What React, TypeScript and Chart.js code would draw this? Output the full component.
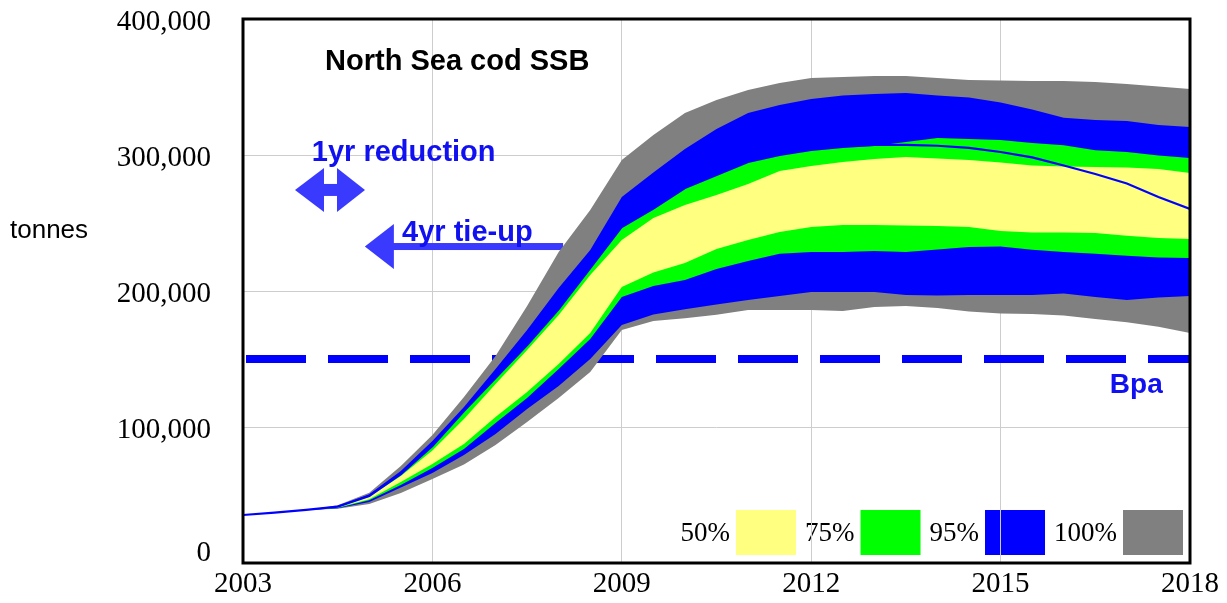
import React, { useEffect, useRef } from "react";
import { Chart, registerables } from "chart.js";

Chart.register(...registerables);

// ---- data (tonnes) ----
const YEARS = [
  2003, 2003.5, 2004, 2004.5, 2005, 2005.5, 2006, 2006.5, 2007, 2007.5, 2008,
  2008.5, 2009, 2009.5, 2010, 2010.5, 2011, 2011.5, 2012, 2012.5, 2013, 2013.5,
  2014, 2014.5, 2015, 2015.5, 2016, 2016.5, 2017, 2017.5, 2018,
];

const UPPER_100 = [
  35300, 37000, 39000, 42500, 51700, 71300, 94100, 122100, 152200, 189000, 228700,
  259600, 296300, 314700, 330900, 340400, 347800, 352900, 356600, 357400, 358100,
  358100, 356600, 355100, 354800, 354400, 354400, 353700, 352200, 350400, 348500,
];
const UPPER_95 = [
  35300, 37000, 39000, 42000, 50500, 67600, 89700, 114700, 142600, 171300, 202200,
  230200, 269100, 287100, 304400, 319100, 330900, 336800, 341200, 343800, 344900,
  345600, 343700, 342300, 338600, 333500, 327400, 325700, 325000, 322100, 320600,
];
const UPPER_75 = [
  35300, 37000, 39000, 41500, 49300, 65400, 86000, 111800, 136000, 160300, 186800,
  216900, 247100, 260700, 275700, 285300, 294900, 300000, 303700, 305900, 306600,
  309600, 312500, 311800, 311000, 308800, 307100, 303500, 302200, 299600, 297800,
];
const UPPER_50 = [
  35300, 37000, 39000, 41200, 48800, 64000, 82700, 105900, 131600, 156600, 182400,
  211800, 237500, 253700, 263200, 270600, 278700, 288200, 291900, 294900, 297100,
  298500, 297400, 296300, 294500, 292300, 291500, 291200, 290800, 289700, 286800,
];
const LOWER_50 = [
  35300, 37000, 39000, 40800, 46800, 59600, 72800, 87500, 107400, 125700, 146300,
  169100, 202900, 213600, 220600, 230900, 237500, 243400, 247100, 248600, 248500,
  248200, 247800, 247100, 244100, 243000, 243000, 242600, 240600, 239000, 238200,
];
const LOWER_75 = [
  35300, 37000, 39000, 40500, 46100, 57400, 69900, 83800, 102900, 121300, 142600,
  164700, 195600, 203600, 208100, 216200, 222100, 227300, 228700, 228700, 229400,
  228700, 230500, 232300, 232700, 230400, 228700, 227400, 225900, 224600, 224300,
];
const LOWER_95 = [
  35300, 37000, 39000, 40200, 44900, 55500, 66200, 79400, 94900, 113200, 130100,
  150000, 175000, 182700, 186500, 190000, 193400, 196300, 199300, 199300, 199300,
  197100, 196700, 197100, 197100, 197100, 198100, 195600, 193400, 195200, 196300,
];
const LOWER_100 = [
  35300, 37000, 39000, 39800, 43400, 51500, 61800, 72400, 86800, 103700, 121300,
  140400, 171300, 177900, 179900, 182600, 186000, 186000, 186000, 185300, 188200,
  189000, 187500, 184900, 183500, 183100, 182000, 179400, 177000, 173800, 169100,
];
const DETERMINISTIC = [
  35300, 37000, 39000, 41500, 49300, 65400, 86000, 111800, 136000, 160300, 186800,
  216900, 247100, 260700, 275700, 285300, 294900, 300000, 303700, 305900, 307400,
  307400, 306800, 305200, 302200, 298200, 292300, 286000, 279000, 269100, 260300,
];

const BPA = 150000;
const X_MIN = 2003;
const X_MAX = 2018;
const X_STEP = 3;
const Y_MIN = 0;
const Y_MAX = 400000;
const Y_STEP = 100000;

const LEGEND_LABELS = ["50%", "75%", "95%", "100%"];

// ---- styles ----
const YELLOW = "#FFFF80";
const GREEN = "#00FF00";
const BLUE = "#0000FF";
const GREY = "#808080";
const LEGEND_COLORS = [YELLOW, GREEN, BLUE, GREY];
const TEXT_BLUE = "#1010F0";
const ARROW_BLUE = "#3A3AFF";
const SERIF = '"Liberation Serif", "Times New Roman", serif';
const SANS = '"Liberation Sans", Arial, sans-serif';

// annotation anchors in data units
const TITLE = { text: "North Sea cod SSB", x: 2004.3, y: 368400 };
const REDUCTION = { text: "1yr reduction", x: 2004.09, y: 301500 };
const TIE_UP = { text: "4yr tie-up", x: 2005.52, y: 242600 };
const BPA_LABEL = { text: "Bpa", x: 2016.73, y: 130900 };
const DOUBLE_ARROW = { x: 2004.386, y: 274300 };
const TIE_UP_ARROW = { tipX: 2004.93, endX: 2008.07, y: 232700 };

const pts = (vals: number[]) => YEARS.map((x, i) => ({ x, y: vals[i] }));

const band = (data: number[], color: string, order: number, fillNext: boolean) => ({
  data: pts(data),
  borderColor: "rgba(0,0,0,0)",
  borderWidth: 0,
  backgroundColor: color,
  pointRadius: 0,
  fill: fillNext ? "+1" : false,
  order,
});

const decor = {
  id: "decor",
  beforeDraw(chart: any) {
    // legend (under grid lines, as in the reference)
    const ctx = chart.ctx;
    const a = chart.chartArea;
    ctx.save();
    ctx.font = `27px ${SERIF}`;
    ctx.textBaseline = "middle";
    ctx.textAlign = "right";
    const boxW = 60;
    const boxH = 45;
    const top = a.bottom - 53;
    let x = a.right - 7;
    for (let i = LEGEND_LABELS.length - 1; i >= 0; i--) {
      ctx.fillStyle = LEGEND_COLORS[i];
      ctx.fillRect(x - boxW, top, boxW, boxH);
      const tr = x - boxW - 6;
      ctx.fillStyle = "#000";
      ctx.fillText(LEGEND_LABELS[i], tr, top + boxH / 2 + 1);
      const w = ctx.measureText(LEGEND_LABELS[i]).width;
      x = tr - w - 9;
    }
    ctx.restore();
  },
  beforeDatasetsDraw(chart: any) {
    const ctx = chart.ctx;
    const xs = chart.scales.x;
    const ys = chart.scales.y;
    ctx.save();
    ctx.fillStyle = ARROW_BLUE;
    // double-headed arrow
    const cx = xs.getPixelForValue(DOUBLE_ARROW.x);
    const cy = ys.getPixelForValue(DOUBLE_ARROW.y);
    ctx.beginPath();
    ctx.moveTo(cx - 35.5, cy);
    ctx.lineTo(cx - 6.5, cy - 22);
    ctx.lineTo(cx - 6.5, cy + 22);
    ctx.closePath();
    ctx.fill();
    ctx.beginPath();
    ctx.moveTo(cx + 34.5, cy);
    ctx.lineTo(cx + 6.5, cy - 22);
    ctx.lineTo(cx + 6.5, cy + 22);
    ctx.closePath();
    ctx.fill();
    ctx.fillRect(cx - 7, cy - 6, 14, 12);
    // tie-up arrow
    const tx = xs.getPixelForValue(TIE_UP_ARROW.tipX);
    const ex = xs.getPixelForValue(TIE_UP_ARROW.endX);
    const ty = ys.getPixelForValue(TIE_UP_ARROW.y);
    ctx.beginPath();
    ctx.moveTo(tx, ty);
    ctx.lineTo(tx + 29, ty - 22.5);
    ctx.lineTo(tx + 29, ty + 22.5);
    ctx.closePath();
    ctx.fill();
    ctx.fillRect(tx + 28, ty - 3.5, ex - tx - 28, 7);
    ctx.restore();
  },
  afterDatasetsDraw(chart: any) {
    const ctx = chart.ctx;
    const a = chart.chartArea;
    const xs = chart.scales.x;
    const ys = chart.scales.y;
    ctx.save();
    ctx.textBaseline = "middle";
    ctx.textAlign = "left";
    const txt = (t: any, color: string, font: string) => {
      ctx.fillStyle = color;
      ctx.font = font;
      ctx.fillText(t.text, xs.getPixelForValue(t.x), ys.getPixelForValue(t.y));
    };
    txt(TITLE, "#000", `bold 29px ${SANS}`);
    txt(REDUCTION, TEXT_BLUE, `bold 29px ${SANS}`);
    txt(TIE_UP, TEXT_BLUE, `bold 29px ${SANS}`);
    txt(BPA_LABEL, TEXT_BLUE, `bold 28px ${SANS}`);

    // frame
    ctx.strokeStyle = "#000";
    ctx.lineWidth = 3;
    ctx.strokeRect(a.left, a.top, a.right - a.left, a.bottom - a.top);

    // y tick labels
    ctx.fillStyle = "#000";
    ctx.font = `29px ${SERIF}`;
    ctx.textAlign = "right";
    for (const tk of ys.ticks) {
      const py = Math.min(ys.getPixelForValue(tk.value) + 3, a.bottom - 10);
      ctx.fillText(Number(tk.value).toLocaleString("en-US"), a.left - 32, py);
    }
    // axis caption
    ctx.textAlign = "left";
    ctx.font = `26px ${SANS}`;
    ctx.fillText("tonnes", 10, 231);
    ctx.restore();
  },
};

export default function App() {
  const ref = useRef<HTMLCanvasElement | null>(null);
  useEffect(() => {
    if (!ref.current) return;
    const chart = new Chart(ref.current, {
      type: "line",
      data: {
        datasets: [
          {
            data: pts(DETERMINISTIC),
            borderColor: BLUE,
            borderWidth: 2.2,
            pointRadius: 0,
            fill: false,
            order: 0,
          },
          band(UPPER_50, YELLOW, 1, true),
          band(LOWER_50, YELLOW, 1, false),
          band(UPPER_75, GREEN, 2, true),
          band(LOWER_75, GREEN, 2, false),
          band(UPPER_95, BLUE, 3, true),
          band(LOWER_95, BLUE, 3, false),
          band(UPPER_100, GREY, 4, true),
          band(LOWER_100, GREY, 4, false),
          {
            data: [
              { x: X_MIN, y: BPA },
              { x: X_MAX, y: BPA },
            ],
            borderColor: BLUE,
            borderWidth: 8,
            borderDash: [60, 22],
            borderDashOffset: -3,
            borderCapStyle: "butt",
            pointRadius: 0,
            fill: false,
            order: 5,
          },
        ] as any,
      },
      options: {
        responsive: false,
        animation: false,
        devicePixelRatio: 1,
        events: [],
        layout: { padding: { top: 19, right: 37, left: 0, bottom: 0 } },
        plugins: { legend: { display: false }, tooltip: { enabled: false } },
        scales: {
          x: {
            type: "linear",
            min: X_MIN,
            max: X_MAX,
            afterFit: (s: any) => {
              s.height = 40;
            },
            ticks: {
              stepSize: X_STEP,
              color: "#000",
              padding: 4,
              font: { family: SERIF, size: 29 },
              callback: (v: any) => String(v),
            },
            grid: { color: "#CDCDCD", lineWidth: 1, drawTicks: false },
            border: { display: false },
          },
          y: {
            min: Y_MIN,
            max: Y_MAX,
            afterFit: (s: any) => {
              s.width = 243;
            },
            ticks: { stepSize: Y_STEP, display: false },
            grid: { color: "#CDCDCD", lineWidth: 1, drawTicks: false },
            border: { display: false },
          },
        },
      } as any,
      plugins: [decor],
    });
    return () => chart.destroy();
  }, []);
  return (
    <div style={{ position: "fixed", left: 0, top: 0, width: 1227, height: 603, background: "#fff" }}>
      <canvas ref={ref} width={1227} height={603} style={{ display: "block" }} />
    </div>
  );
}
